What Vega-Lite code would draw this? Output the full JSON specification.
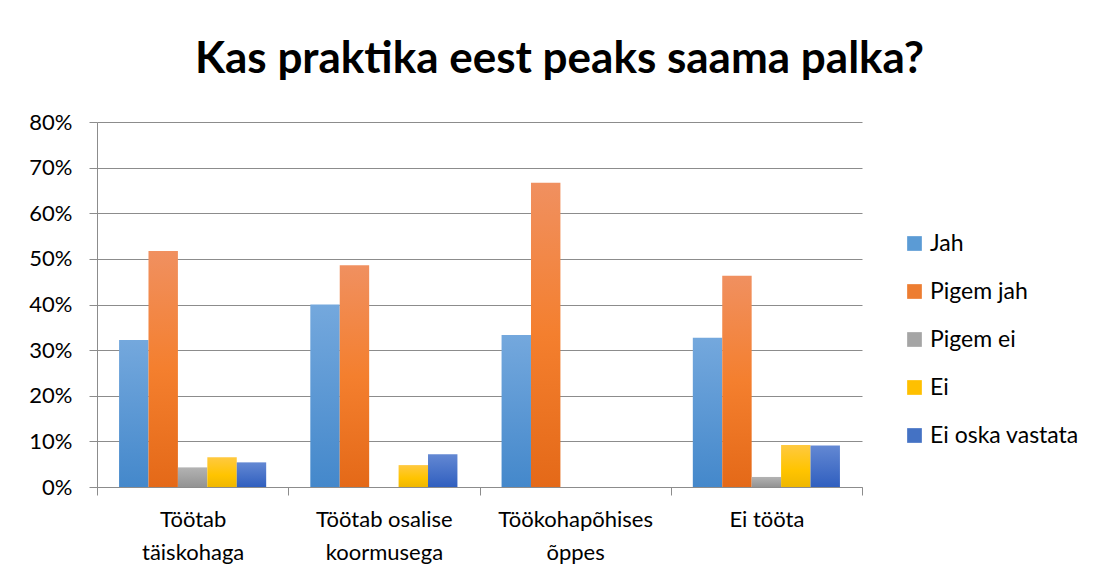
{
  "$schema": "https://vega.github.io/schema/vega-lite/v6.json",
  "autosize": "none",
  "width": 765,
  "height": 365,
  "padding": {"left": 97, "top": 122, "right": 236, "bottom": 91},
  "background": "white",
  "title": {
    "text": "Kas praktika eest peaks saama palka?",
    "font": "Lato",
    "fontSize": 44,
    "fontWeight": "bold",
    "color": "#000000",
    "anchor": "middle",
    "baseline": "alphabetic",
    "dx": 80,
    "offset": -6
  },
  "data": {
    "values": [
      {"g": "Töötab\ntäiskohaga", "s": "Jah", "v": 0.322},
      {"g": "Töötab\ntäiskohaga", "s": "Pigem jah", "v": 0.517},
      {"g": "Töötab\ntäiskohaga", "s": "Pigem ei", "v": 0.043},
      {"g": "Töötab\ntäiskohaga", "s": "Ei", "v": 0.065},
      {"g": "Töötab\ntäiskohaga", "s": "Ei oska vastata", "v": 0.054},
      {"g": "Töötab osalise\nkoormusega", "s": "Jah", "v": 0.4},
      {"g": "Töötab osalise\nkoormusega", "s": "Pigem jah", "v": 0.486},
      {"g": "Töötab osalise\nkoormusega", "s": "Pigem ei", "v": 0},
      {"g": "Töötab osalise\nkoormusega", "s": "Ei", "v": 0.048},
      {"g": "Töötab osalise\nkoormusega", "s": "Ei oska vastata", "v": 0.072},
      {"g": "Töökohapõhises\nõppes", "s": "Jah", "v": 0.333},
      {"g": "Töökohapõhises\nõppes", "s": "Pigem jah", "v": 0.667},
      {"g": "Töökohapõhises\nõppes", "s": "Pigem ei", "v": 0},
      {"g": "Töökohapõhises\nõppes", "s": "Ei", "v": 0},
      {"g": "Töökohapõhises\nõppes", "s": "Ei oska vastata", "v": 0},
      {"g": "Ei tööta", "s": "Jah", "v": 0.327},
      {"g": "Ei tööta", "s": "Pigem jah", "v": 0.463},
      {"g": "Ei tööta", "s": "Pigem ei", "v": 0.022},
      {"g": "Ei tööta", "s": "Ei", "v": 0.092},
      {"g": "Ei tööta", "s": "Ei oska vastata", "v": 0.091}
    ]
  },
  "mark": {"type": "bar"},
  "encoding": {
    "x": {
      "field": "g",
      "type": "nominal",
      "sort": ["Töötab\ntäiskohaga", "Töötab osalise\nkoormusega", "Töökohapõhises\nõppes", "Ei tööta"],
      "scale": {"paddingInner": 0, "paddingOuter": 0},
      "axis": {
        "title": null,
        "labelExpr": "split(datum.label, '\\n')",
        "labelAngle": 0,
        "tickBand": "extent",
        "labelFont": "Lato",
        "labelFontSize": 22,
        "labelColor": "#000000",
        "labelLineHeight": 33,
        "labelPadding": 14,
        "domainColor": "#8c8c8c",
        "tickColor": "#8c8c8c",
        "tickSize": 8,
        "grid": false
      }
    },
    "xOffset": {
      "field": "s",
      "sort": ["Jah", "Pigem jah", "Pigem ei", "Ei", "Ei oska vastata"],
      "scale": {"paddingInner": 0, "paddingOuter": 0.75}
    },
    "y": {
      "field": "v",
      "type": "quantitative",
      "scale": {"domain": [0, 0.8], "nice": false},
      "axis": {
        "title": null,
        "format": ".0%",
        "values": [0, 0.1, 0.2, 0.3, 0.4, 0.5, 0.6, 0.7, 0.8],
        "labelFont": "Lato",
        "labelFontSize": 22,
        "labelColor": "#000000",
        "labelPadding": 17,
        "domainColor": "#8c8c8c",
        "tickColor": "#8c8c8c",
        "tickSize": 8,
        "grid": true,
        "gridColor": "#8c8c8c"
      }
    },
    "fill": {
      "field": "s",
      "type": "nominal",
      "sort": ["Jah", "Pigem jah", "Pigem ei", "Ei", "Ei oska vastata"],
      "scale": {
        "domain": ["Jah", "Pigem jah", "Pigem ei", "Ei", "Ei oska vastata"],
        "range": ["#5B9BD5", "#ED7D31", "#A5A5A5", "#FFC000", "#4472C4"]
      },
      "condition": [
        {"test": "datum.s === 'Jah'", "value": {"gradient": "linear", "x1": 0, "y1": 0, "x2": 0, "y2": 1, "stops": [{"offset": 0, "color": "#74a8dd"}, {"offset": 1, "color": "#4488cb"}]}},
        {"test": "datum.s === 'Pigem jah'", "value": {"gradient": "linear", "x1": 0, "y1": 0, "x2": 0, "y2": 1, "stops": [{"offset": 0, "color": "#f09060"}, {"offset": 0.5, "color": "#f47f2e"}, {"offset": 1, "color": "#e46918"}]}},
        {"test": "datum.s === 'Pigem ei'", "value": {"gradient": "linear", "x1": 0, "y1": 0, "x2": 0, "y2": 1, "stops": [{"offset": 0, "color": "#b3b3b3"}, {"offset": 1, "color": "#939393"}]}},
        {"test": "datum.s === 'Ei'", "value": {"gradient": "linear", "x1": 0, "y1": 0, "x2": 0, "y2": 1, "stops": [{"offset": 0, "color": "#ffc940"}, {"offset": 0.6, "color": "#ffc400"}, {"offset": 1, "color": "#efb700"}]}},
        {"test": "datum.s === 'Ei oska vastata'", "value": {"gradient": "linear", "x1": 0, "y1": 0, "x2": 0, "y2": 1, "stops": [{"offset": 0, "color": "#6388d3"}, {"offset": 1, "color": "#305fbf"}]}}
      ],
      "legend": {
        "title": null,
        "orient": "none",
        "legendX": 806,
        "legendY": 110,
        "symbolType": "square",
        "symbolSize": 216,
        "symbolStrokeWidth": 0,
        "labelFont": "Lato",
        "labelFontSize": 23,
        "labelColor": "#000000",
        "labelOffset": 4,
        "rowPadding": 24,
        "labelLimit": 300
      }
    }
  },
  "config": {
    "view": {"stroke": null}
  }
}
